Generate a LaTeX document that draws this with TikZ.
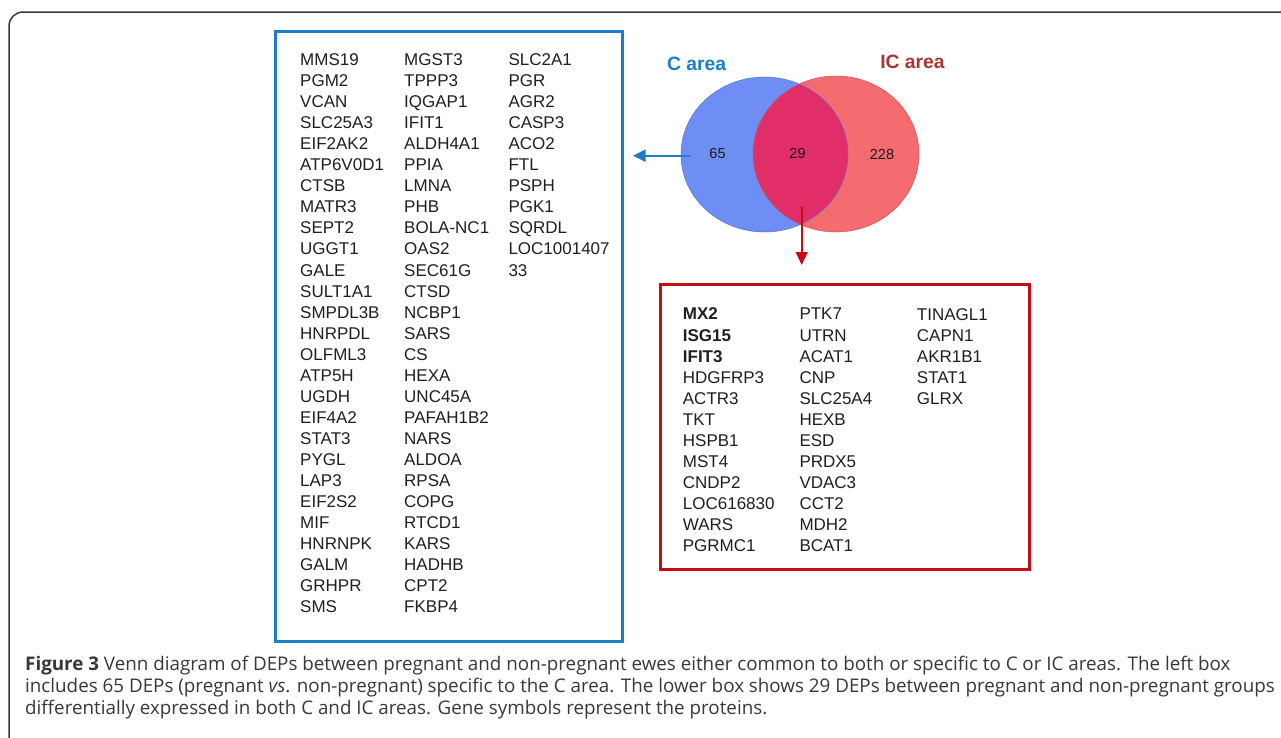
\documentclass[tikz,border=0pt]{standalone}
\usepackage{fontspec}
\setmainfont{Liberation Sans}
\newfontfamily\capfont{Open Sans}
\usetikzlibrary{positioning}
\usetikzlibrary{arrows.meta}
\definecolor{cblue}{RGB}{28,126,198}
\definecolor{icred}{RGB}{168,52,52}
\definecolor{boxred}{RGB}{196,12,18}
\definecolor{vblue}{RGB}{110,142,245}
\definecolor{vred}{RGB}{245,108,112}
\definecolor{vboth}{RGB}{226,46,104}
\definecolor{framegray}{RGB}{58,58,58}

\begin{document}
\begin{tikzpicture}
  [x=1pt,y=-1pt,
  genes/.style={anchor=base west,align=left,inner sep=0pt,font=\fontsize{17}{21.05}\selectfont,text=black!88},
  bluebox/.style={draw=cblue,line width=3pt,inner sep=0pt},
  redbox/.style={draw=boxred,line width=3pt,inner sep=0pt},
  arealabel/.style={anchor=base,inner sep=0pt,font=\fontsize{19.3}{22}\selectfont\bfseries},
  count/.style={anchor=base,inner sep=0pt,font=\fontsize{14.5}{17}\selectfont,text=black!90},
  carrow/.style={-{Triangle[length=12.5pt,width=12pt]},cblue,line width=1.6pt},
  rarrow/.style={-{Triangle[length=13pt,width=12pt]},boxred,line width=1.6pt}]
  \useasboundingbox (0,0) rectangle (1281,737);

  % frame round the figure
  \draw [framegray,line width=1.5pt,rounded corners=14pt] (9,745) -- (9,12) -- (1290,12);

  % left box: C area only (nodes placed at their last baseline)
  \node[bluebox,minimum width=347pt,minimum height=610pt] (cbox) at (448.5,336.5) {};
  \node[genes] (c1) at (300,612.8) {MMS19\\PGM2\\VCAN\\SLC25A3\\EIF2AK2\\ATP6V0D1\\CTSB\\MATR3\\SEPT2\\UGGT1\\GALE\\SULT1A1\\SMPDL3B\\HNRPDL\\OLFML3\\ATP5H\\UGDH\\EIF4A2\\STAT3\\PYGL\\LAP3\\EIF2S2\\MIF\\HNRNPK\\GALM\\GRHPR\\SMS};
  \node[genes] (c2) at (404,612.8) {MGST3\\TPPP3\\IQGAP1\\IFIT1\\ALDH4A1\\PPIA\\LMNA\\PHB\\BOLA-NC1\\OAS2\\SEC61G\\CTSD\\NCBP1\\SARS\\CS\\HEXA\\UNC45A\\PAFAH1B2\\NARS\\ALDOA\\RPSA\\COPG\\RTCD1\\KARS\\HADHB\\CPT2\\FKBP4};
  \node[genes] (c3) at (508.3,276) {SLC2A1\\PGR\\AGR2\\CASP3\\ACO2\\FTL\\PSPH\\PGK1\\SQRDL\\LOC1001407\\33};

  % venn
  \coordinate (cc) at (764.5,154.5);
  \coordinate (icc) at (836,154);
  \fill [vblue] (cc) ellipse [x radius=83.5pt,y radius=77.5pt];
  \fill [vred] (icc) ellipse [x radius=83pt,y radius=78pt];
  \begin{scope}
    \clip (cc) ellipse [x radius=83.5pt,y radius=77.5pt];
    \fill [vboth] (icc) ellipse [x radius=83pt,y radius=78pt];
  \end{scope}
  \draw [vblue!80!black,line width=0.5pt] (cc) ellipse [x radius=83.5pt,y radius=77.5pt];
  \draw [vred!80!black,line width=0.5pt] (icc) ellipse [x radius=83pt,y radius=78pt];

  \node[arealabel,text=cblue] (clabel) at (696.7,70) {C area};
  \node[arealabel,text=icred] (iclabel) at (912.5,68.5) {IC area};
  \node[count] (n65) at (717.5,158.3) {65};
  \node[count] (n29) at (797.5,158.3) {29};
  \node[count] (n228) at (882,159) {228};

  % lower box: both areas
  \node[redbox,minimum width=369pt,minimum height=285pt] (bbox) at (844.5,426.5) {};
  \node[genes] (b1) at (682.7,551.5) {\textbf{MX2}\\\textbf{ISG15}\\\textbf{IFIT3}\\HDGFRP3\\ACTR3\\TKT\\HSPB1\\MST4\\CNDP2\\LOC616830\\WARS\\PGRMC1};
  \node[genes] (b2) at (799.3,551.5) {PTK7\\UTRN\\ACAT1\\CNP\\SLC25A4\\HEXB\\ESD\\PRDX5\\VDAC3\\CCT2\\MDH2\\BCAT1};
  \node[genes] (b3) at (916.7,404.2) {TINAGL1\\CAPN1\\AKR1B1\\STAT1\\GLRX};

  % arrows
  \coordinate (cfrom) at (690,155.7);
  \coordinate (cto) at (633,155.7);
  \coordinate (bfrom) at (801.7,206.5);
  \coordinate (bto) at (801.7,265);
  \draw [carrow] (cfrom) -- (cto);
  \draw [rarrow] (bfrom) -- (bto);

  % caption
  \node[anchor=base west,align=left,inner sep=0pt,text=black!78,font=\capfont\fontsize{18.8}{21.6}\selectfont] (caption) at (25,714)
    {\textbf{Figure 3} Venn diagram of DEPs between pregnant and non-pregnant ewes either common to both or specific to C or IC areas. The left box\\
    includes 65 DEPs (pregnant \textit{vs}. non-pregnant) specific to the C area. The lower box shows 29 DEPs between pregnant and non-pregnant groups\\
    differentially expressed in both C and IC areas. Gene symbols represent the proteins.};
\end{tikzpicture}
\end{document}
